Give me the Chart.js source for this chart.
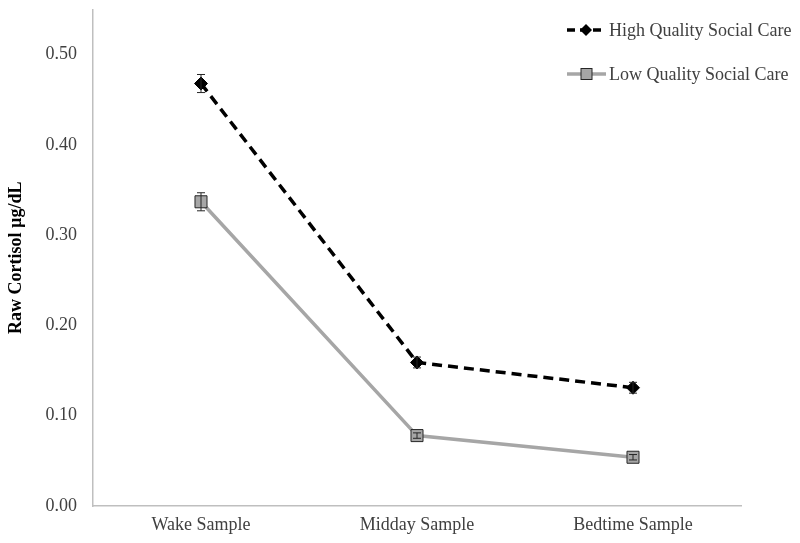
<!DOCTYPE html>
<html>
<head>
<meta charset="utf-8">
<script src="https://cdn.jsdelivr.net/npm/chart.js@4"></script>
<style>
  html, body { margin: 0; padding: 0; background: #fff; }
  #wrap { width: 800px; height: 543px; }
</style>
</head>
<body>
<div id="wrap"><canvas id="cortisolChart"></canvas></div>
<script>
const samples = ['Wake Sample', 'Midday Sample', 'Bedtime Sample'];
const highCare = [0.468, 0.159, 0.131];
const highErr = [0.010, 0.006, 0.006];
const lowCare = [0.337, 0.078, 0.054];
const lowErr = [0.010, 0.003, 0.003];
const yTicks = [0, 0.1, 0.2, 0.3, 0.4, 0.5];

const serif = '"Liberation Serif", "Times New Roman", serif';
const textColor = '#404040';

// error bars drawn on top of the lines
const errorBars = {
    id: 'errorBars',
    afterDatasetsDraw(chart) {
        const { ctx, scales: { x, y } } = chart;
        const errs = [highErr, lowErr];
        ctx.save();
        ctx.strokeStyle = '#262626';
        ctx.lineWidth = 1;
        chart.data.datasets.forEach((ds, i) => {
            ds.data.forEach((v, j) => {
                const px = x.getPixelForValue(j);
                const top = y.getPixelForValue(v + errs[i][j]);
                const bot = y.getPixelForValue(v - errs[i][j]);
                ctx.beginPath();
                ctx.moveTo(px, top); ctx.lineTo(px, bot);
                ctx.moveTo(px - 4, top); ctx.lineTo(px + 4, top);
                ctx.moveTo(px - 4, bot); ctx.lineTo(px + 4, bot);
                ctx.stroke();
            });
        });
        ctx.restore();
    }
};

// legend in the top right corner, like the original
const cornerLegend = {
    id: 'cornerLegend',
    afterDraw(chart) {
        const { ctx } = chart;
        const items = [
            { label: 'High Quality Social Care', y: 30, dash: [8, 5], color: '#000', style: 'diamond' },
            { label: 'Low Quality Social Care', y: 74, dash: [], color: '#a6a6a6', style: 'square' }
        ];
        ctx.save();
        items.forEach(it => {
            ctx.beginPath();
            ctx.setLineDash(it.dash);
            ctx.strokeStyle = it.color;
            ctx.lineWidth = 3.5;
            ctx.moveTo(567, it.y);
            ctx.lineTo(606, it.y);
            ctx.stroke();
            ctx.setLineDash([]);
            if (it.style === 'diamond') {
                ctx.fillStyle = '#000';
                ctx.beginPath();
                ctx.moveTo(586, it.y - 6); ctx.lineTo(592, it.y);
                ctx.lineTo(586, it.y + 6); ctx.lineTo(580, it.y);
                ctx.closePath();
                ctx.fill();
            } else {
                ctx.fillStyle = '#a6a6a6';
                ctx.strokeStyle = '#262626';
                ctx.lineWidth = 1;
                ctx.fillRect(581, it.y - 5.5, 11, 11);
                ctx.strokeRect(581, it.y - 5.5, 11, 11);
            }
            ctx.fillStyle = textColor;
            ctx.font = '18px ' + serif;
            ctx.textBaseline = 'middle';
            ctx.fillText(it.label, 609, it.y + 1);
        });
        ctx.restore();
    }
};

const ctx = document.getElementById('cortisolChart').getContext('2d');
new Chart(ctx, {
    type: 'line',
    data: {
        labels: samples,
        datasets: [{
            label: 'High Quality Social Care',
            data: highCare,
            borderColor: '#000',
            borderWidth: 3.5,
            borderDash: [10, 6],
            pointStyle: 'rectRot',
            pointRadius: 6.5,
            pointBackgroundColor: '#000',
            pointBorderColor: '#000',
            pointBorderWidth: 1,
            tension: 0
        }, {
            label: 'Low Quality Social Care',
            data: lowCare,
            borderColor: '#a6a6a6',
            borderWidth: 3.5,
            pointStyle: 'rect',
            pointRadius: 8.5,
            pointBackgroundColor: '#a6a6a6',
            pointBorderColor: '#262626',
            pointBorderWidth: 1,
            tension: 0
        }]
    },
    options: {
        responsive: true,
        maintainAspectRatio: false,
        animation: false,
        layout: { padding: { top: 7, right: 59, bottom: 0, left: 0 } },
        plugins: {
            legend: { display: false },
            tooltip: { enabled: false }
        },
        scales: {
            x: {
                offset: true,
                afterFit: s => { s.height = 37; s.paddingLeft = 0; s.paddingRight = 0; },
                grid: { display: false, drawTicks: false },
                border: { color: '#bfbfbf', width: 1.5 },
                ticks: { color: textColor, font: { family: serif, size: 18 }, padding: 8 }
            },
            y: {
                min: 0,
                max: 0.55,
                afterBuildTicks: axis => { axis.ticks = yTicks.map(v => ({ value: v })); },
                afterFit: s => { s.width = 93; s.paddingTop = 0; s.paddingBottom = 0; },
                grid: { display: false, drawTicks: false },
                border: { color: '#bfbfbf', width: 1.5 },
                ticks: {
                    color: textColor,
                    font: { family: serif, size: 18 },
                    padding: 16,
                    callback: v => v.toFixed(2)
                },
                title: {
                    display: true,
                    text: 'Raw Cortisol µg/dL',
                    color: '#000',
                    font: { family: serif, size: 18, weight: 'bold' },
                    padding: { top: 6, bottom: 0 }
                }
            }
        }
    },
    plugins: [errorBars, cornerLegend]
});
</script>
</body>
</html>
